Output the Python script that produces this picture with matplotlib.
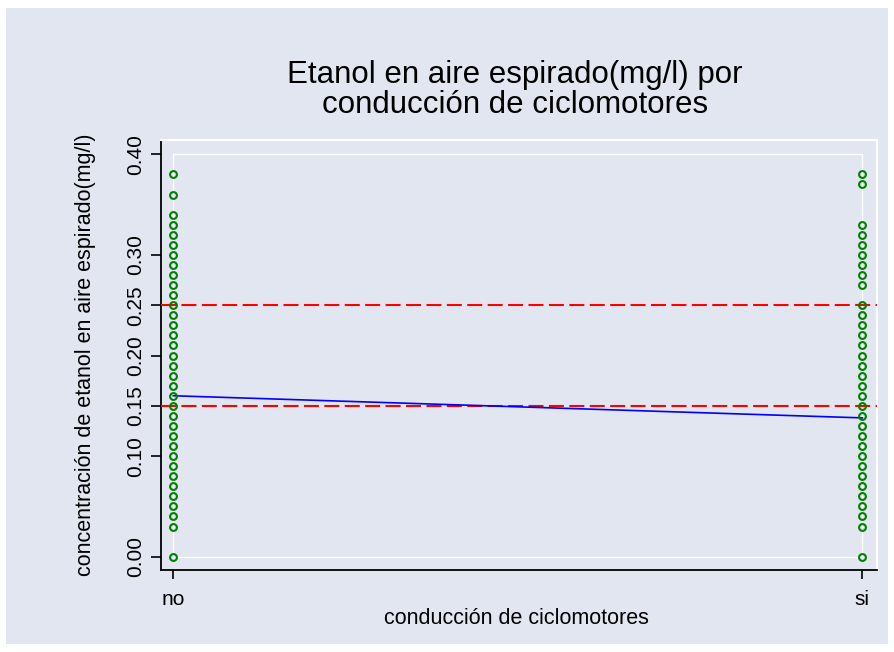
import matplotlib.pyplot as plt
from matplotlib.patches import Rectangle

plt.rcParams['font.family'] = ['Liberation Sans', 'DejaVu Sans']

# Data
categories = ['no', 'si']
no_values = [0.00, 0.03, 0.04, 0.05, 0.06, 0.07, 0.08, 0.09, 0.10, 0.11, 0.12,
             0.13, 0.14, 0.15, 0.16, 0.17, 0.18, 0.19, 0.20, 0.21, 0.22, 0.23,
             0.24, 0.25, 0.26, 0.27, 0.28, 0.29, 0.30, 0.31, 0.32, 0.33, 0.34,
             0.36, 0.38]
si_values = [0.00, 0.03, 0.04, 0.05, 0.06, 0.07, 0.08, 0.09, 0.10, 0.11, 0.12,
             0.13, 0.14, 0.15, 0.16, 0.17, 0.18, 0.19, 0.20, 0.21, 0.22, 0.23,
             0.24, 0.25, 0.27, 0.28, 0.29, 0.30, 0.31, 0.32, 0.33, 0.37, 0.38]
fit_values = [0.160, 0.138]  # linear fit at no / si
ref_lines = [0.15, 0.25]
yticks = [0.00, 0.10, 0.15, 0.20, 0.25, 0.30, 0.40]

bg = '#e2e6f0'
W, H = 894, 652

fig = plt.figure(figsize=(W / 100, H / 100), dpi=100)
fig.patch.set_facecolor('white')
fig.patches.append(Rectangle((6 / W, 8 / H), 882 / W, 636 / H,
                             transform=fig.transFigure, facecolor=bg,
                             edgecolor='none', zorder=-10))

ax = fig.add_axes([160.5 / W, 1 - 570 / H, 716.2 / W, 430.5 / H])
ax.set_facecolor(bg)
ax.set_xlim(-0.0186, 1.0209)
ax.set_ylim(-0.0132, 0.4147)

# plot region frame (white, Stata style)
x0, x1 = 0, len(categories) - 1
y0, y1 = yticks[0], yticks[-1]
ax.plot([x0, x1, x1, x0, x0], [y0, y0, y1, y1, y0], color='white', lw=1.0, zorder=1)

for s in ['top', 'right']:
    ax.spines[s].set_color('white')
    ax.spines[s].set_linewidth(1.5)
for s in ['left', 'bottom']:
    ax.spines[s].set_color('black')
    ax.spines[s].set_linewidth(1.3)

# reference lines
for r in ref_lines:
    ax.axhline(r, color='red', lw=1.5, dashes=(7.2, 2.6), zorder=3)

# fitted line
ax.plot(range(len(categories)), fit_values, color='blue', lw=1.2, zorder=4)

# observations
for i, vals in enumerate([no_values, si_values]):
    ax.plot([i] * len(vals), vals, linestyle='none', marker='o', ms=4.9,
            mfc='none', mec='#008000', mew=1.5, zorder=5)

ax.set_xticks(range(len(categories)))
ax.set_xticklabels(categories)
ax.set_yticks(yticks)
ax.set_yticklabels(['%.2f' % t for t in yticks], rotation=90, va='center')
ax.tick_params(axis='y', length=7.2, width=1.2, pad=4, labelsize=15)
ax.tick_params(axis='x', length=6.5, width=1.2, pad=8, labelsize=15)

ax.set_xlabel('conducción de ciclomotores', fontsize=15.5)
ax.xaxis.set_label_coords(0.497, -0.1115)
ax.xaxis.label.set_va('center')
ax.set_ylabel('concentración de etanol en aire espirado(mg/l)', fontsize=15.5)
ax.yaxis.set_label_coords(-0.1054, 0.5)
ax.yaxis.label.set_va('center')

ax.set_title('Etanol en aire espirado(mg/l) por\nconducción de ciclomotores',
             fontsize=22.5, pad=19, linespacing=1.02, x=0.495)

fig.savefig('out.png', dpi=100, facecolor=fig.get_facecolor())
